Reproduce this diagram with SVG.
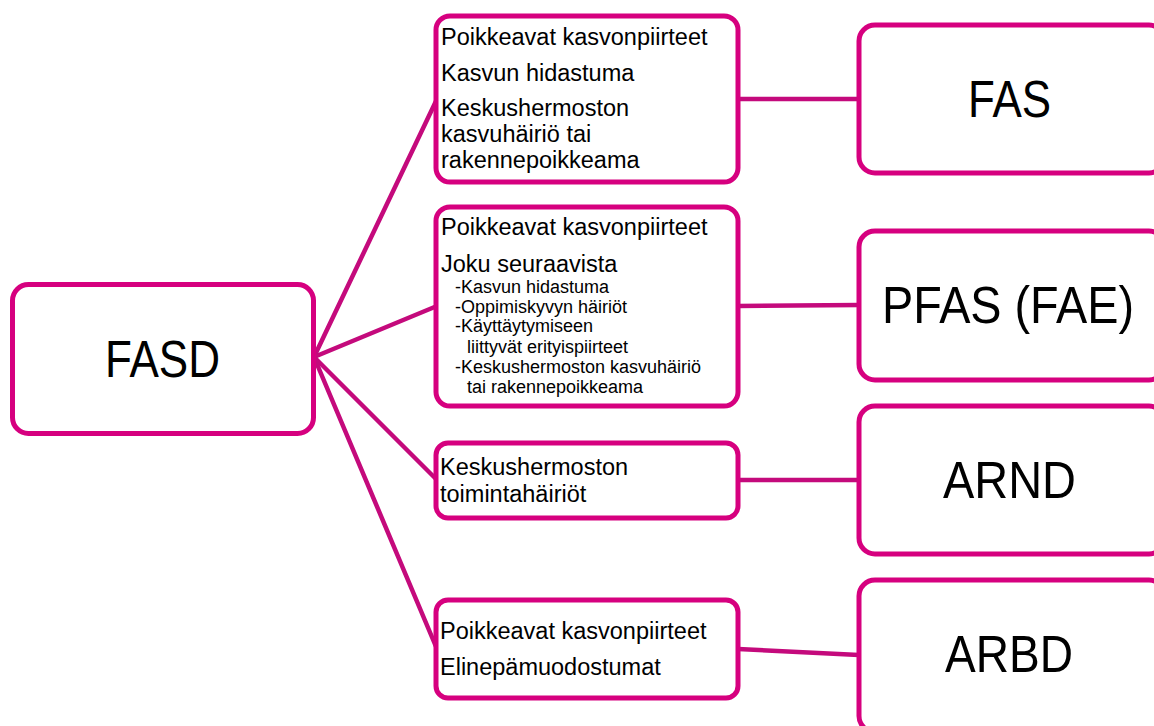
<svg xmlns="http://www.w3.org/2000/svg" width="1154" height="726" viewBox="0 0 1154 726">
<style>
.box{fill:#fff;stroke:#d6007f;stroke-width:5}
.con{stroke:#c40a7c;stroke-width:4.5;fill:none;stroke-linecap:round}
.t{font-family:"Liberation Sans",Arial,sans-serif;fill:#000;font-size:23.5px}
.s{font-family:"Liberation Sans",Arial,sans-serif;fill:#000;font-size:18px}
.big{font-family:"Liberation Sans",Arial,sans-serif;fill:#000;font-size:51px}
</style>
<rect width="1154" height="726" fill="#fff"/>
<g id="connectors">
<line class="con" x1="314" y1="357" x2="437" y2="99"/>
<line class="con" x1="314" y1="357" x2="437" y2="306"/>
<line class="con" x1="314" y1="357" x2="437" y2="480"/>
<line class="con" x1="314" y1="357" x2="437" y2="649"/>
<line class="con" x1="738" y1="99" x2="859" y2="99"/>
<line class="con" x1="738" y1="306" x2="859" y2="305"/>
<line class="con" x1="738" y1="480" x2="859" y2="480"/>
<line class="con" x1="738" y1="649" x2="859" y2="655"/>
</g>
<g id="fasd">
<rect class="box" x="12.5" y="284.5" width="301" height="149" rx="16"/>
<text class="big" x="105" y="377" textLength="115" lengthAdjust="spacingAndGlyphs">FASD</text>
</g>
<g id="crit-fas">
<rect class="box" x="436" y="16" width="302" height="166" rx="14"/>
<text class="t" x="441" y="45">Poikkeavat kasvonpiirteet</text>
<text class="t" x="441" y="81">Kasvun hidastuma</text>
<text class="t" x="441" y="116">Keskushermoston</text>
<text class="t" x="441" y="142">kasvuhäiriö tai</text>
<text class="t" x="441" y="168">rakennepoikkeama</text>
</g>
<g id="crit-pfas">
<rect class="box" x="436" y="207" width="302" height="199" rx="14"/>
<text class="t" x="441" y="235">Poikkeavat kasvonpiirteet</text>
<text class="t" x="441" y="272">Joku seuraavista</text>
<text class="s" x="455" y="293">-Kasvun hidastuma</text>
<text class="s" x="455" y="313">-Oppimiskyvyn häiriöt</text>
<text class="s" x="455" y="332">-Käyttäytymiseen</text>
<text class="s" x="467" y="353">liittyvät erityispiirteet</text>
<text class="s" x="455" y="373">-Keskushermoston kasvuhäiriö</text>
<text class="s" x="467" y="393">tai rakennepoikkeama</text>
</g>
<g id="crit-arnd">
<rect class="box" x="436" y="443" width="302" height="75" rx="12"/>
<text class="t" x="440" y="475">Keskushermoston</text>
<text class="t" x="440" y="502">toimintahäiriöt</text>
</g>
<g id="crit-arbd">
<rect class="box" x="436" y="600" width="302" height="98" rx="12"/>
<text class="t" x="440" y="639">Poikkeavat kasvonpiirteet</text>
<text class="t" x="440" y="675">Elinepämuodostumat</text>
</g>
<g id="fas">
<rect class="box" x="859" y="25" width="306" height="148" rx="16"/>
<text class="big" x="968" y="117" textLength="83" lengthAdjust="spacingAndGlyphs">FAS</text>
</g>
<g id="pfas">
<rect class="box" x="859" y="231" width="306" height="149" rx="16"/>
<text class="big" x="882" y="323" textLength="252" lengthAdjust="spacingAndGlyphs">PFAS (FAE)</text>
</g>
<g id="arnd">
<rect class="box" x="859" y="406" width="306" height="148" rx="16"/>
<text class="big" x="943" y="498" textLength="133" lengthAdjust="spacingAndGlyphs">ARND</text>
</g>
<g id="arbd">
<rect class="box" x="859" y="580" width="306" height="152" rx="16"/>
<text class="big" x="945" y="672" textLength="128" lengthAdjust="spacingAndGlyphs">ARBD</text>
</g>
</svg>
